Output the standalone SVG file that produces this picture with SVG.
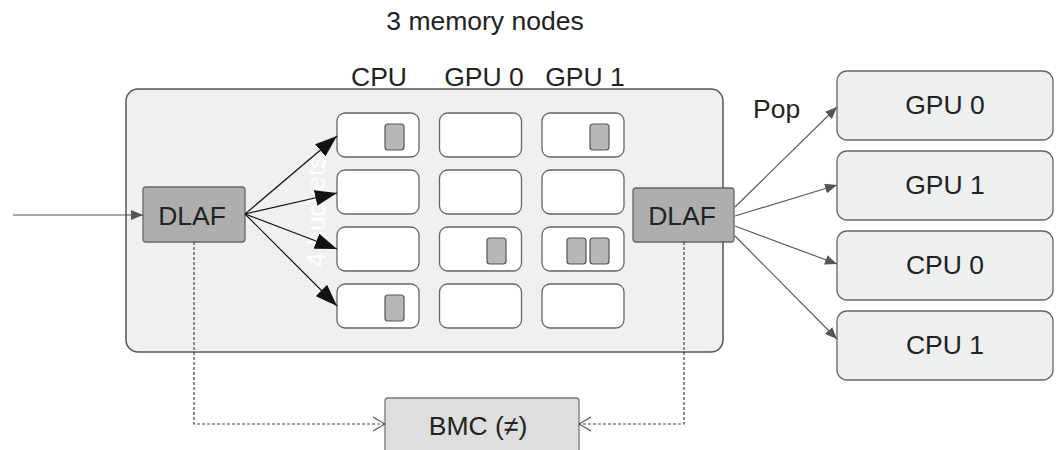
<svg xmlns="http://www.w3.org/2000/svg" width="1059" height="450" viewBox="0 0 1059 450">
  <style>
    text { font-family: "Liberation Sans", Arial, sans-serif; font-size: 26.5px; fill: #222; }
    .mid { text-anchor: middle; }
    .cell { fill: #ffffff; stroke: #666; stroke-width: 1.3; }
    .mark { fill: #b6b7b6; stroke: #555; stroke-width: 1.2; }
    .dlaf { fill: #aeaeae; stroke: #666; stroke-width: 1.3; }
    .dev { fill: #eeefef; stroke: #666; stroke-width: 1.3; }
    .fan { stroke: #111; stroke-width: 1.2; fill: none; }
    .pop { stroke: #5a5a5a; stroke-width: 1.2; fill: none; }
    .dash { stroke: #444; stroke-width: 1.2; fill: none; stroke-dasharray: 3 2; }
  </style>
  <defs>
    <marker id="big" markerUnits="userSpaceOnUse" markerWidth="22" markerHeight="16" refX="22" refY="8" orient="auto">
      <path d="M0,0 L22,8 L0,16 z" fill="#111"/>
    </marker>
    <marker id="small" markerUnits="userSpaceOnUse" markerWidth="12" markerHeight="10" refX="12" refY="5" orient="auto">
      <path d="M0,0 L12,5 L0,10 z" fill="#555"/>
    </marker>
    <marker id="open" markerUnits="userSpaceOnUse" markerWidth="14" markerHeight="16" refX="13" refY="8" orient="auto">
      <path d="M1,1 L13,8 L1,15" fill="none" stroke="#555" stroke-width="1.2"/>
    </marker>
  </defs>

  <text class="mid" x="485" y="30">3 memory nodes</text>
  <text class="mid" x="379" y="86">CPU</text>
  <text class="mid" x="484" y="86">GPU 0</text>
  <text class="mid" x="585" y="86">GPU 1</text>

  <g id="container">
    <rect x="126" y="89" width="597" height="263" rx="12" fill="#eff0f0" stroke="#555" stroke-width="1.5"/>
  </g>

  <g id="buckets">
    <rect class="cell" x="337" y="113" width="82" height="44" rx="8"/>
    <rect class="cell" x="439.5" y="113" width="82" height="44" rx="8"/>
    <rect class="cell" x="542" y="113" width="82" height="44" rx="8"/>
    <rect class="cell" x="337" y="170" width="82" height="44" rx="8"/>
    <rect class="cell" x="439.5" y="170" width="82" height="44" rx="8"/>
    <rect class="cell" x="542" y="170" width="82" height="44" rx="8"/>
    <rect class="cell" x="337" y="227" width="82" height="44" rx="8"/>
    <rect class="cell" x="439.5" y="227" width="82" height="44" rx="8"/>
    <rect class="cell" x="542" y="227" width="82" height="44" rx="8"/>
    <rect class="cell" x="337" y="284" width="82" height="44" rx="8"/>
    <rect class="cell" x="439.5" y="284" width="82" height="44" rx="8"/>
    <rect class="cell" x="542" y="284" width="82" height="44" rx="8"/>
    <rect class="mark" x="385" y="124" width="19" height="26" rx="3"/>
    <rect class="mark" x="590" y="124" width="19" height="26" rx="3"/>
    <rect class="mark" x="487" y="238" width="19" height="26" rx="3"/>
    <rect class="mark" x="567" y="238" width="19" height="26" rx="3"/>
    <rect class="mark" x="590" y="238" width="19" height="26" rx="3"/>
    <rect class="mark" x="385" y="295" width="19" height="26" rx="3"/>
  </g>

  <text transform="translate(325,267) rotate(-90)" style="fill:#ffffff; font-size:26px;">4 buckets</text>

  <g id="dlaf-in">
    <rect class="dlaf" x="143" y="187" width="102" height="55" rx="3"/>
    <text class="mid" x="192" y="225">DLAF</text>
  </g>
  <g id="dlaf-out">
    <rect class="dlaf" x="633" y="188" width="101" height="54" rx="3"/>
    <text class="mid" x="682" y="225">DLAF</text>
  </g>

  <g id="gpu0">
    <rect class="dev" x="837" y="71" width="216" height="69" rx="10"/>
    <text class="mid" x="945" y="114">GPU 0</text>
  </g>
  <g id="gpu1">
    <rect class="dev" x="837" y="151" width="216" height="69" rx="10"/>
    <text class="mid" x="945" y="194">GPU 1</text>
  </g>
  <g id="cpu0">
    <rect class="dev" x="837" y="231" width="216" height="69" rx="10"/>
    <text class="mid" x="945" y="274">CPU 0</text>
  </g>
  <g id="cpu1">
    <rect class="dev" x="837" y="311" width="216" height="69" rx="10"/>
    <text class="mid" x="945" y="354">CPU 1</text>
  </g>

  <g id="bmc">
    <rect x="385" y="398" width="194" height="70" rx="3" fill="#dedede" stroke="#777" stroke-width="1.3"/>
    <text class="mid" x="478" y="435">BMC (≠)</text>
  </g>

  <text x="753" y="118">Pop</text>

  <g id="connectors">
    <line x1="13" y1="215" x2="143" y2="215" stroke="#555" stroke-width="1.2" marker-end="url(#small)"/>
    <line class="fan" x1="245" y1="214" x2="337" y2="136" marker-end="url(#big)"/>
    <line class="fan" x1="245" y1="214" x2="337" y2="193" marker-end="url(#big)"/>
    <line class="fan" x1="245" y1="214" x2="337" y2="249" marker-end="url(#big)"/>
    <line class="fan" x1="245" y1="214" x2="337" y2="306" marker-end="url(#big)"/>
    <line class="pop" x1="735" y1="207" x2="837" y2="107" marker-end="url(#small)"/>
    <line class="pop" x1="735" y1="216" x2="837" y2="185" marker-end="url(#small)"/>
    <line class="pop" x1="735" y1="226" x2="837" y2="264" marker-end="url(#small)"/>
    <line class="pop" x1="735" y1="236" x2="837" y2="339" marker-end="url(#small)"/>
    <path class="dash" d="M194,242 V424 H385" marker-end="url(#open)"/>
    <path class="dash" d="M684,242 V424 H579" marker-end="url(#open)"/>
  </g>
</svg>
